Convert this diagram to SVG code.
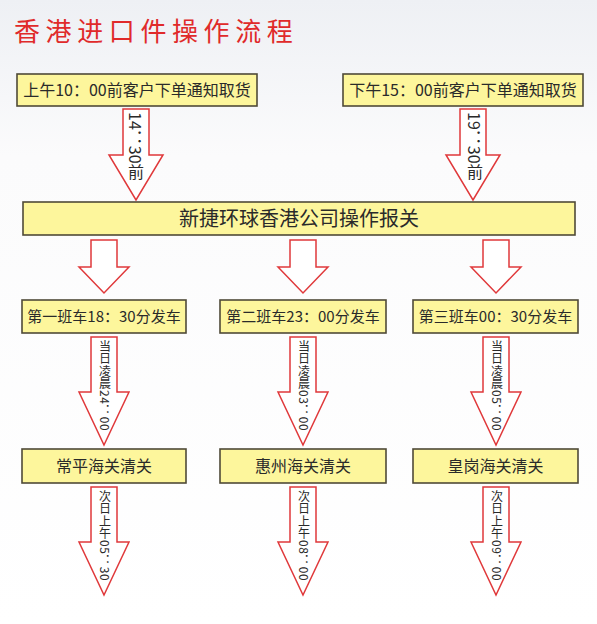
<svg xmlns="http://www.w3.org/2000/svg" width="597" height="624" viewBox="0 0 597 624">
<defs>
<linearGradient id="bg" x1="0" y1="0" x2="0" y2="1">
<stop offset="0" stop-color="#eef0f4"/>
<stop offset="0.25" stop-color="#fbfbfc"/>
<stop offset="1" stop-color="#ffffff"/>
</linearGradient>
<style>
.box{fill:#fdf69c;stroke:#4f4a38;stroke-width:1.6}
.t{font-family:"Noto Sans CJK SC","Noto Sans",sans-serif;fill:#2a2a2a;text-anchor:middle}
.arr{fill:#ffffff;stroke:#e0393b;stroke-width:1.5;stroke-linejoin:miter}
.v{font-family:"Noto Sans CJK SC","Noto Sans",sans-serif;fill:#2a2a2a;writing-mode:vertical-rl;text-anchor:start}
.vs{font-size:12px;letter-spacing:0.5px}
</style>
</defs>
<rect x="0" y="0" width="597" height="624" fill="url(#bg)"/>
<text x="14" y="41" font-family="'Noto Sans CJK SC',sans-serif" font-size="26" letter-spacing="5.6" fill="#e02a2a">香港进口件操作流程</text>

<g id="connectors">
<polygon class="arr" points="123,109 149,109 149,155 163,155 136,200 109,155 123,155"/>
<text class="v" x="136" y="112" font-size="16">14：30前</text>
<polygon class="arr" points="460,109 486,109 486,155 500,155 473,200 446,155 460,155"/>
<text class="v" x="475" y="112" font-size="16">19：30前</text>

<polygon class="arr" points="91,240 117,240 117,267 129,267 104,293 79,267 91,267"/>
<polygon class="arr" points="290,240 316,240 316,267 328,267 303,293 278,267 290,267"/>
<polygon class="arr" points="483,240 509,240 509,267 521,267 496,293 471,267 483,267"/>

<polygon class="arr" points="91,337 117,337 117,392 129,392 104,445 79,392 91,392"/>
<text class="v vs" x="105" y="340">当日凌晨24：00</text>
<polygon class="arr" points="290,337 316,337 316,392 328,392 303,445 278,392 290,392"/>
<text class="v vs" x="304" y="340">当日凌晨03：00</text>
<polygon class="arr" points="483,337 509,337 509,392 521,392 496,445 471,392 483,392"/>
<text class="v vs" x="497" y="340">当日凌晨05：00</text>

<polygon class="arr" points="91,487 117,487 117,542 129,542 104,595 79,542 91,542"/>
<text class="v vs" x="105" y="490">次日上午05：30</text>
<polygon class="arr" points="290,487 316,487 316,542 328,542 303,595 278,542 290,542"/>
<text class="v vs" x="304" y="490">次日上午08：00</text>
<polygon class="arr" points="483,487 509,487 509,542 521,542 496,595 471,542 483,542"/>
<text class="v vs" x="497" y="490">次日上午09：00</text>
</g>

<g id="order-am">
<rect class="box" x="17" y="74" width="240" height="32"/>
<text class="t" x="137" y="96" font-size="16">上午10：00前客户下单通知取货</text>
</g>
<g id="order-pm">
<rect class="box" x="343" y="74" width="240" height="32"/>
<text class="t" x="463" y="96" font-size="16">下午15：00前客户下单通知取货</text>
</g>
<g id="declare">
<rect class="box" x="23" y="202" width="552" height="33"/>
<text class="t" x="299" y="225.5" font-size="20">新捷环球香港公司操作报关</text>
</g>
<g id="truck1">
<rect class="box" x="22" y="300" width="164" height="33"/>
<text class="t" x="104" y="322" font-size="15">第一班车18：30分发车</text>
</g>
<g id="truck2">
<rect class="box" x="220" y="300" width="166" height="33"/>
<text class="t" x="303" y="322" font-size="15">第二班车23：00分发车</text>
</g>
<g id="truck3">
<rect class="box" x="413" y="300" width="165" height="33"/>
<text class="t" x="495.5" y="322" font-size="15">第三班车00：30分发车</text>
</g>
<g id="customs1">
<rect class="box" x="22" y="449" width="164" height="34"/>
<text class="t" x="104" y="472" font-size="16">常平海关清关</text>
</g>
<g id="customs2">
<rect class="box" x="220" y="449" width="166" height="34"/>
<text class="t" x="303" y="472" font-size="16">惠州海关清关</text>
</g>
<g id="customs3">
<rect class="box" x="413" y="449" width="165" height="34"/>
<text class="t" x="495.5" y="472" font-size="16">皇岗海关清关</text>
</g>
</svg>
